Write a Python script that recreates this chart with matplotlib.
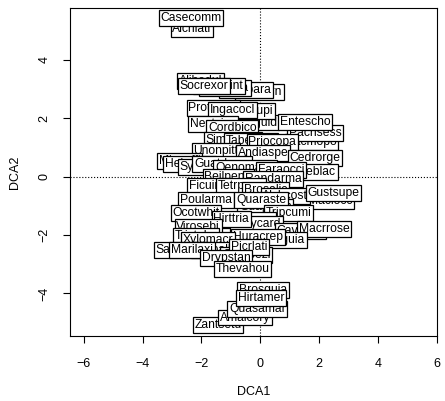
import matplotlib
matplotlib.use("Agg")
import matplotlib.pyplot as plt

plt.rcParams['font.family'] = ['Liberation Sans', 'DejaVu Sans']

# species scores on the first two DCA axes, in drawing order (later labels sit on top)
species = ["Alchlati", "Casecomm",
           "Sloatern", "Cordpara", "Vochfera", "Alibedul", "Cupacint", "Socrexor",
           "Protpana", "Guarguid", "Trichupi", "Ingacocl", "Nectcinn", "Cordbico",
           "Lacmopo", "Pachsess", "Entescho", "Simaamar", "Tabearbo", "Priocopa",
           "Unonpitt", "Andiaspe", "Cedrorge", "Micoaffi", "Heisconc", "Sympglob",
           "Guatdume", "Oenomapo", "Alseblac", "Faraocci", "Beilpend", "Randarma",
           "Ficuinsi", "Tetrpana", "Brosalic", "Maclocc", "Alchcost", "Gustsupe",
           "Guapstan", "Poularma", "Quaraste", "Tripcumi", "Ocotwhit", "Cupatenu",
           "Chrycard", "Hirttria", "Virosebi", "Cavaplat", "Macrrose", "Sipaguia",
           "Huracrep", "Trictube", "Xylomacr", "Sapibrou", "Tricpall", "Marilaxi",
           "Guatpezi", "Picrlati", "Drypstan", "Thevahou",
           "Zantsetu", "Amaicory", "Quasamar", "Brosguia", "Hirtamer"]

dca1 = [-2.32, -2.35,
        -0.03, -0.48, -1.19, -2.04, -1.40, -1.91,
        -1.60, -0.27, -0.27, -0.95, -1.60, -0.95,
        1.74, 1.87, 1.53, -0.92, -0.31, 0.41,
        -1.50, 0.10, 1.87, -2.73, -2.39, -1.81,
        -1.29, -0.51, 1.81, 0.72, -1.09, 0.44,
        -1.74, -0.65, 0.17, 2.39, 0.85, 2.49,
        0.17, -1.84, 0.03, 0.95, -2.18, -0.41,
        -0.14, -0.99, -2.11, 1.36, 2.18, 0.72,
        -0.07, -2.18, -1.77, -2.73, -1.64, -2.32,
        -0.48, -0.37, -1.16, -0.61,
        -1.43, -0.51, -0.10, 0.10, 0.03]

dca2 = [5.06, 5.44,
        2.90, 2.97, 3.04, 3.28, 3.11, 3.11,
        2.36, 1.85, 2.25, 2.29, 1.81, 1.67,
        1.19, 1.50, 1.88, 1.26, 1.22, 1.19,
        0.88, 0.81, 0.64, 0.54, 0.44, 0.33,
        0.44, 0.30, 0.16, 0.23, -0.01, -0.08,
        -0.32, -0.32, -0.46, -0.83, -0.66, -0.56,
        -1.04, -0.80, -0.80, -1.24, -1.24, -1.48,
        -1.62, -1.45, -1.72, -1.86, -1.79, -2.17,
        -2.07, -2.03, -2.17, -2.51, -2.51, -2.51,
        -2.68, -2.41, -2.79, -3.16,
        -5.08, -4.83, -4.54, -3.88, -4.16]

ticks = [-6, -4, -2, 0, 2, 4, 6]
yticks = [-4, -2, 0, 2, 4]

fig = plt.figure(figsize=(4.45, 4.01), dpi=100)
ax = fig.add_axes([0.157, 0.162, 0.825, 0.818])
ax.set_xlim(-6.47, 6.01)
ax.set_ylim(-5.46, 5.78)

ax.axhline(0, color='black', ls=':', lw=0.8)
ax.axvline(0, color='black', ls=':', lw=0.8)

for name, x, y in zip(species, dca1, dca2):
    ax.text(x, y, name, ha='center', va='center', fontsize=8.7,
            bbox=dict(boxstyle='square,pad=0.14', fc='white', ec='black', lw=0.9))

ax.set_xticks(ticks)
ax.set_yticks(yticks)
ax.tick_params(axis='x', direction='out', length=5, width=0.8, pad=11, labelsize=9)
ax.tick_params(axis='y', direction='out', length=5, width=0.8, pad=9, labelsize=9,
               labelrotation=90)
for lab in ax.get_yticklabels():
    lab.set_va('center')
for sp in ax.spines.values():
    sp.set_linewidth(0.8)

fig.text(253.5 / 445, 1 - 392 / 401, "DCA1", ha='center', va='center', fontsize=9)
fig.text(15 / 445, 1 - 172 / 401, "DCA2", ha='center', va='center', fontsize=9,
         rotation=90)

fig.savefig("out.png", dpi=100)
